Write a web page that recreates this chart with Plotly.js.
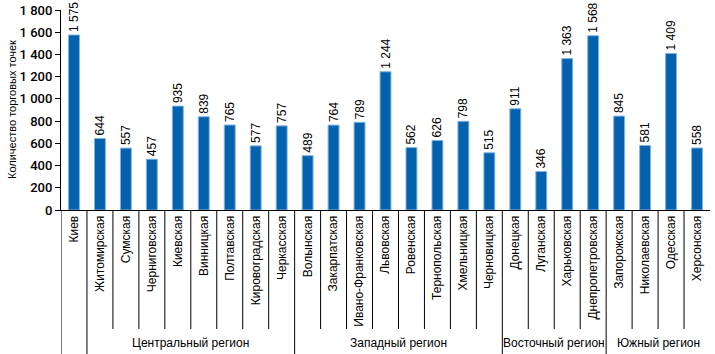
<!DOCTYPE html>
<html>
<head>
<meta charset="utf-8">
<script src="https://cdn.plot.ly/plotly-3.0.1.min.js"></script>
<style>html,body{margin:0;padding:0;background:#fff;}#chart{width:715px;height:354px;}</style>
</head>
<body>
<div id="chart"></div>
<script>
const categories = ["Киев","Житомирская","Сумская","Черниговская","Киевская","Винницкая","Полтавская","Кировоградская","Черкасская",
  "Волынская","Закарпатская","Ивано-Франковская","Львовская","Ровенская","Тернопольская","Хмельницкая","Черновицкая",
  "Донецкая","Луганская","Харьковская","Днепропетровская",
  "Запорожская","Николаевская","Одесская","Херсонская"];
const values = [1575,644,557,457,935,839,765,577,757,
  489,764,789,1244,562,626,798,515,
  911,346,1363,1568,
  845,581,1409,558];
const groupNames = ["Центральный регион","Западный регион","Восточный регион","Южный регион"];
const groupStart = [1,9,17,21];
const groupEnd = [8,16,20,24];
const yTicks = [0,200,400,600,800,1000,1200,1400,1600,1800];

const idx = categories.map((c,i)=>i);
const shapes = [];
const lineColor = '#000';
const fullBounds = new Set([-0.5,0.5].concat(groupStart.map(s=>s-0.5)));
for (let i=0;i<categories.length;i++){
  const b = i-0.5;
  shapes.push({type:'line', xref:'x', yref:'paper', x0:b, x1:b, y0:0,
    y1: fullBounds.has(b) ? -0.75 : -0.595, line:{color:lineColor,width:1}});
}
const annotations = groupNames.map((g,k)=>({
  x:(groupStart[k]+groupEnd[k])/2, xref:'x', y:-0.665, yref:'paper',
  text:g, showarrow:false, font:{family:'Liberation Sans, Arial, sans-serif', size:12, color:'#000'},
  xanchor:'center', yanchor:'middle'
}));
annotations.push({
  x:-49/649, xref:'paper', y:0.5, yref:'paper', text:'Количество торговых точек',
  textangle:-90, showarrow:false, xanchor:'center', yanchor:'middle',
  font:{family:'Liberation Sans, Arial, sans-serif', size:11, color:'#000'}
});

const trace = {
  type:'bar', x:idx, y:values,
  marker:{color:'#0461AE', line:{color:'#7FB3E0', width:1}},
  texttemplate:'%{y:,}', textposition:'outside', textangle:-90, constraintext:'none',
  textfont:{family:'Liberation Sans, Arial, sans-serif', size:12, color:'#000'},
  cliponaxis:false, hoverinfo:'none'
};

const layout = {
  width:715, height:354,
  margin:{l:61, r:5, t:10, b:144},
  separators:', ',
  paper_bgcolor:'#fff', plot_bgcolor:'#fff',
  bargap:0.58,
  showlegend:false,
  xaxis:{
    range:[-0.5,24.5], tickvals:idx, ticktext:categories, tickangle:-90,
    ticks:'', showline:true, linecolor:'#000', linewidth:1, showgrid:false, zeroline:false,
    tickfont:{family:'Liberation Sans, Arial, sans-serif', size:12, color:'#000'},
    automargin:false
  },
  yaxis:{
    range:[0,1800], tickvals:yTicks, tickformat:',d',
    ticks:'outside', ticklen:5, tickcolor:'#000', showline:true, linecolor:'#000', linewidth:1,
    showgrid:false, zeroline:false, automargin:false,
    tickfont:{family:'Roboto, Liberation Sans, sans-serif', size:13, color:'#000', weight:500}
  },
  shapes:shapes,
  annotations:annotations
};
Plotly.newPlot('chart',[trace],layout,{staticPlot:true});
</script>
</body>
</html>
